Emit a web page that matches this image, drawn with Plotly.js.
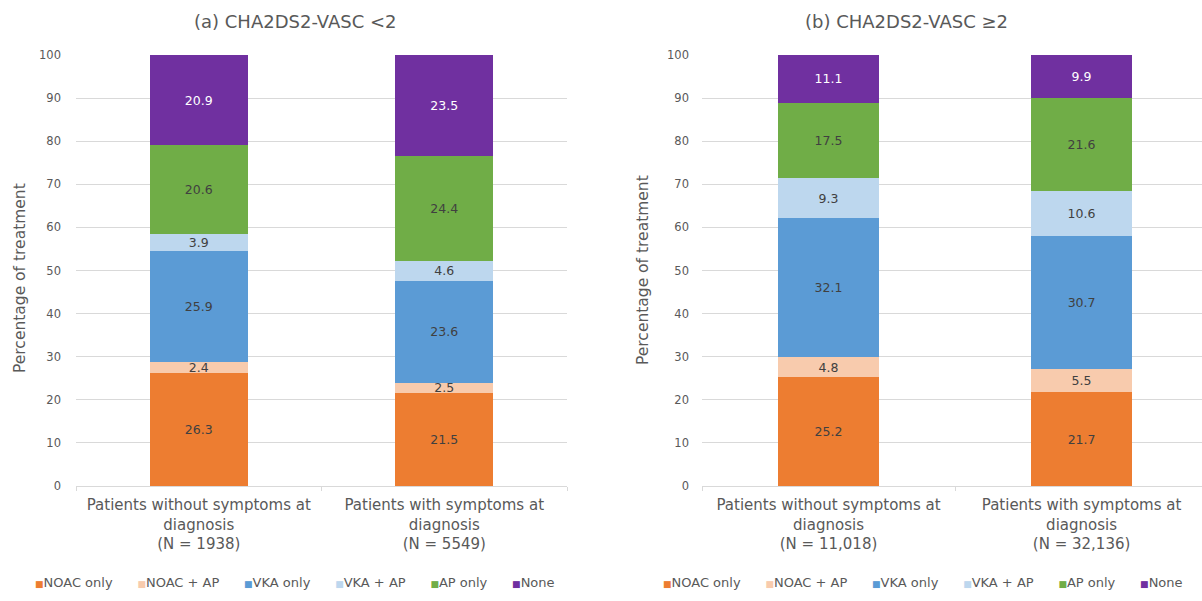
<!DOCTYPE html>
<html>
<head>
<meta charset="utf-8">
<script src="https://cdn.plot.ly/plotly-3.0.1.min.js"></script>
<style>
  html, body { margin: 0; padding: 0; background: #fff; }
  #chart { width: 1202px; height: 601px; }
</style>
</head>
<body>
<div id="chart"></div>
<script>
// Treatment share by symptom status, split by CHA2DS2-VASc group
const groupsLow = [
  "Patients without symptoms at<br>diagnosis<br>(N = 1938)",
  "Patients with symptoms at<br>diagnosis<br>(N = 5549)"
];
const groupsHigh = [
  "Patients without symptoms at<br>diagnosis<br>(N = 11,018)",
  "Patients with symptoms at<br>diagnosis<br>(N = 32,136)"
];
const treatments = ["NOAC only", "NOAC + AP", "VKA only", "VKA + AP", "AP only", "None"];

// Percentages per treatment: [without symptoms, with symptoms]
const lowNoacOnly = [26.3, 21.5];
const lowNoacAp   = [2.4, 2.5];
const lowVkaOnly  = [25.9, 23.6];
const lowVkaAp    = [3.9, 4.6];
const lowApOnly   = [20.6, 24.4];
const lowNone     = [20.9, 23.5];

const highNoacOnly = [25.2, 21.7];
const highNoacAp   = [4.8, 5.5];
const highVkaOnly  = [32.1, 30.7];
const highVkaAp    = [9.3, 10.6];
const highApOnly   = [17.5, 21.6];
const highNone     = [11.1, 9.9];

const colors = ["#ED7D31", "#F8CBAD", "#5B9BD5", "#BDD7EE", "#70AD47", "#7030A0"];
const labelColors = ["#404040", "#404040", "#404040", "#404040", "#404040", "#ffffff"];

const lowSeries = [lowNoacOnly, lowNoacAp, lowVkaOnly, lowVkaAp, lowApOnly, lowNone];
const highSeries = [highNoacOnly, highNoacAp, highVkaOnly, highVkaAp, highApOnly, highNone];

const FONT = "DejaVu Sans, Liberation Sans, sans-serif";
const GREY = "#595959";
const W = 1202, H = 601;
const px = v => v / W;
const py = v => 1 - v / H;

function makeTraces(series, cats, xa, ya) {
  return series.map((vals, i) => ({
    type: "bar",
    name: treatments[i],
    x: cats,
    y: vals,
    xaxis: xa,
    yaxis: ya,
    showlegend: false,
    width: 0.4,
    marker: { color: colors[i], line: { width: 0 } },
    text: vals.map(v => v.toFixed(1)),
    textposition: "inside",
    insidetextanchor: "middle",
    constraintext: "none",
    textangle: 0,
    textfont: { family: FONT, size: 12.5, color: labelColors[i] },
    hoverinfo: "name+y"
  }));
}

const data = [
  ...makeTraces(lowSeries, groupsLow, "x", "y"),
  ...makeTraces(highSeries, groupsHigh, "x2", "y2")
];

// Compact one-line key: small coloured square followed by the treatment name
const keyLine = treatments
  .map((t, i) => `<span style="color:${colors[i]};font-size:9px">■</span>${t}`)
  .join("&nbsp;&nbsp;&nbsp;&nbsp;&nbsp;&nbsp;");

const yBase = {
  range: [0, 100],
  dtick: 10,
  showgrid: true,
  gridcolor: "#d9d9d9",
  gridwidth: 1,
  zeroline: false,
  showline: false,
  ticks: "",
  tickfont: { family: FONT, size: 11.5, color: GREY },
  domain: [py(486), py(55)],
  fixedrange: true
};
const xBase = {
  type: "category",
  showgrid: false,
  showline: true,
  linecolor: "#d9d9d9",
  linewidth: 1,
  ticks: "outside",
  tickson: "boundaries",
  ticklen: 4,
  tickcolor: "#d9d9d9",
  ticklabelstandoff: 5,
  tickfont: { family: FONT, size: 15, color: GREY },
  fixedrange: true
};

function note(text, x, y, size, extra) {
  return Object.assign({
    text, xref: "paper", yref: "paper", x: px(x), y: py(y),
    xanchor: "center", yanchor: "middle", showarrow: false,
    font: { family: FONT, size, color: GREY }
  }, extra || {});
}

const layout = {
  width: W,
  height: H,
  margin: { l: 0, r: 0, t: 0, b: 0, autoexpand: false },
  paper_bgcolor: "#ffffff",
  plot_bgcolor: "#ffffff",
  barmode: "stack",
  showlegend: false,
  font: { family: FONT, color: GREY },
  xaxis: Object.assign({}, xBase, { domain: [px(76), px(567)], range: [-0.5, 1.5], anchor: "y" }),
  yaxis: Object.assign({}, yBase, { anchor: "x", ticklabelstandoff: 14 }),
  xaxis2: Object.assign({}, xBase, { domain: [px(702), 1], range: [-0.5, 1.476], anchor: "y2" }),
  yaxis2: Object.assign({}, yBase, { anchor: "x2", ticklabelstandoff: 12 }),
  annotations: [
    note("(a) CHA2DS2-VASC &lt;2", 295, 22, 18),
    note("(b) CHA2DS2-VASC ≥2", 906, 22, 18),
    note("Percentage of treatment", 20, 278, 15.5, { textangle: -90 }),
    note("Percentage of treatment", 643, 270, 15.5, { textangle: -90 }),
    note(keyLine, 295, 582, 13),
    note(keyLine, 923, 582, 13)
  ]
};

Plotly.newPlot("chart", data, layout, { displayModeBar: false, staticPlot: true });
</script>
</body>
</html>
